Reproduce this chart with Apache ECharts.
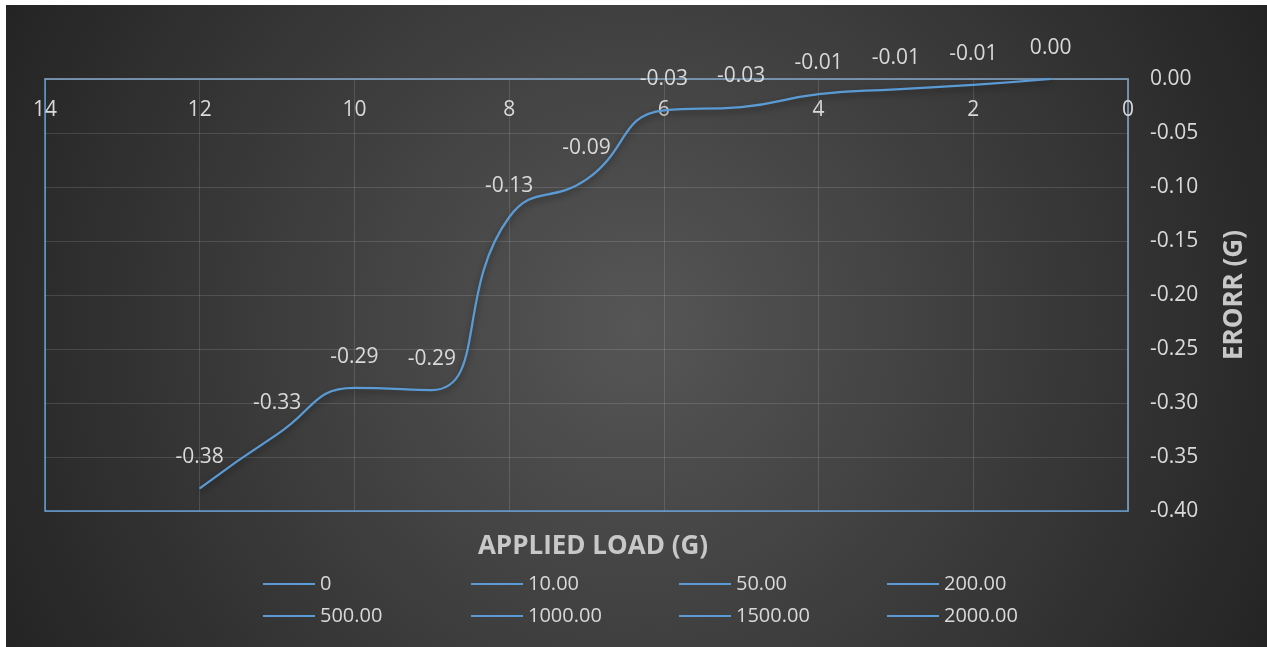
<!DOCTYPE html>
<html>
<head>
<meta charset="utf-8">
<script src="https://cdn.jsdelivr.net/npm/echarts@6/dist/echarts.min.js"></script>
<style>
  html, body { margin: 0; padding: 0; background: #ffffff; }
  #chart { position: absolute; left: 6px; top: 5px; width: 1261px; height: 642px; }
</style>
</head>
<body>
<div id="chart"></div>
<script>
// 图表数据
var loadX = [12, 11, 10, 9, 8, 7, 6, 5, 4, 3, 2, 1];
var errorY = [-0.379, -0.329, -0.286, -0.288, -0.128, -0.093, -0.029, -0.026, -0.014, -0.0095, -0.0055, 0.0];
var legendNames = ['0', '10.00', '50.00', '200.00', '500.00', '1000.00', '1500.00', '2000.00'];

var lineColor = '#5b9bd5';
var textColor = '#d9d9d9';
var font = '"Open Sans", "Noto Sans", sans-serif';

var chart = echarts.init(document.getElementById('chart'), null, { renderer: 'canvas' });

var points = [];
for (var i = 0; i < loadX.length; i++) {
  points.push([loadX[i], errorY[i]]);
}

var series = [];
for (var k = 0; k < legendNames.length; k++) {
  series.push({
    name: legendNames[k],
    type: 'line',
    data: k === 0 ? points : [],
    smooth: 0.5,
    symbol: 'circle',
    symbolSize: 1,
    showSymbol: true,
    emphasis: { disabled: true },
    itemStyle: { color: lineColor },
    lineStyle: {
      color: lineColor,
      width: 2.25,
      shadowColor: 'rgba(0,0,0,0.45)',
      shadowBlur: 6,
      shadowOffsetY: 3
    },
    label: {
      show: true,
      position: 'top',
      distance: 20,
      color: textColor,
      fontFamily: font,
      fontSize: 21,
      formatter: function (p) { return p.value[1].toFixed(2); }
    },
    labelLayout: { hideOverlap: false }
  });
}

var option = {
  backgroundColor: {
    type: 'radial',
    x: 0.5, y: 0.5, r: 1.1,
    colorStops: [
      { offset: 0, color: '#565656' },
      { offset: 1, color: '#242424' }
    ]
  },
  textStyle: { fontFamily: font },
  grid: {
    left: 39, top: 74, width: 1083, height: 432,
    show: true,
    borderColor: lineColor,
    borderWidth: 1.5,
    containLabel: false
  },
  graphic: [{
    type: 'text',
    x: 587, y: 542,
    style: {
      text: 'APPLIED LOAD (G)',
      fill: '#c8c8c8',
      font: 'bold 26px "Open Sans", sans-serif',
      textAlign: 'center',
      textVerticalAlign: 'middle'
    }
  }],
  legend: {
    data: legendNames,
    left: 252,
    top: 562,
    width: 860,
    icon: 'rect',
    itemWidth: 52,
    itemHeight: 2,
    itemGap: 8,
    textStyle: { color: textColor, fontSize: 20, fontFamily: font, width: 143, lineHeight: 24 }
  },
  xAxis: {
    type: 'value',
    min: 0, max: 14, interval: 2,
    inverse: true,
    position: 'top',
    axisLine: { show: true, lineStyle: { color: '#7d92a8', width: 1.5 } },
    axisTick: { show: false },
    axisLabel: { inside: true, margin: 21, color: textColor, fontSize: 21, fontFamily: font },
    splitLine: { show: true, lineStyle: { color: 'rgba(255,255,255,0.13)', width: 1 } }
  },
  yAxis: {
    type: 'value',
    min: -0.4, max: 0, interval: 0.05,
    position: 'right',
    name: 'ERORR (G)',
    nameLocation: 'middle',
    nameRotate: 90,
    nameGap: 94,
    nameTextStyle: { color: '#c8c8c8', fontSize: 26, fontWeight: 'bold', fontFamily: font },
    axisLine: { show: true, lineStyle: { color: '#7d92a8', width: 1.5 } },
    axisTick: { show: false },
    axisLabel: {
      margin: 22, color: textColor, fontSize: 21, fontFamily: font,
      formatter: function (v) { return v.toFixed(2); }
    },
    splitLine: { show: true, lineStyle: { color: 'rgba(255,255,255,0.13)', width: 1 } }
  },
  series: series
};

chart.setOption(option);
</script>
</body>
</html>
